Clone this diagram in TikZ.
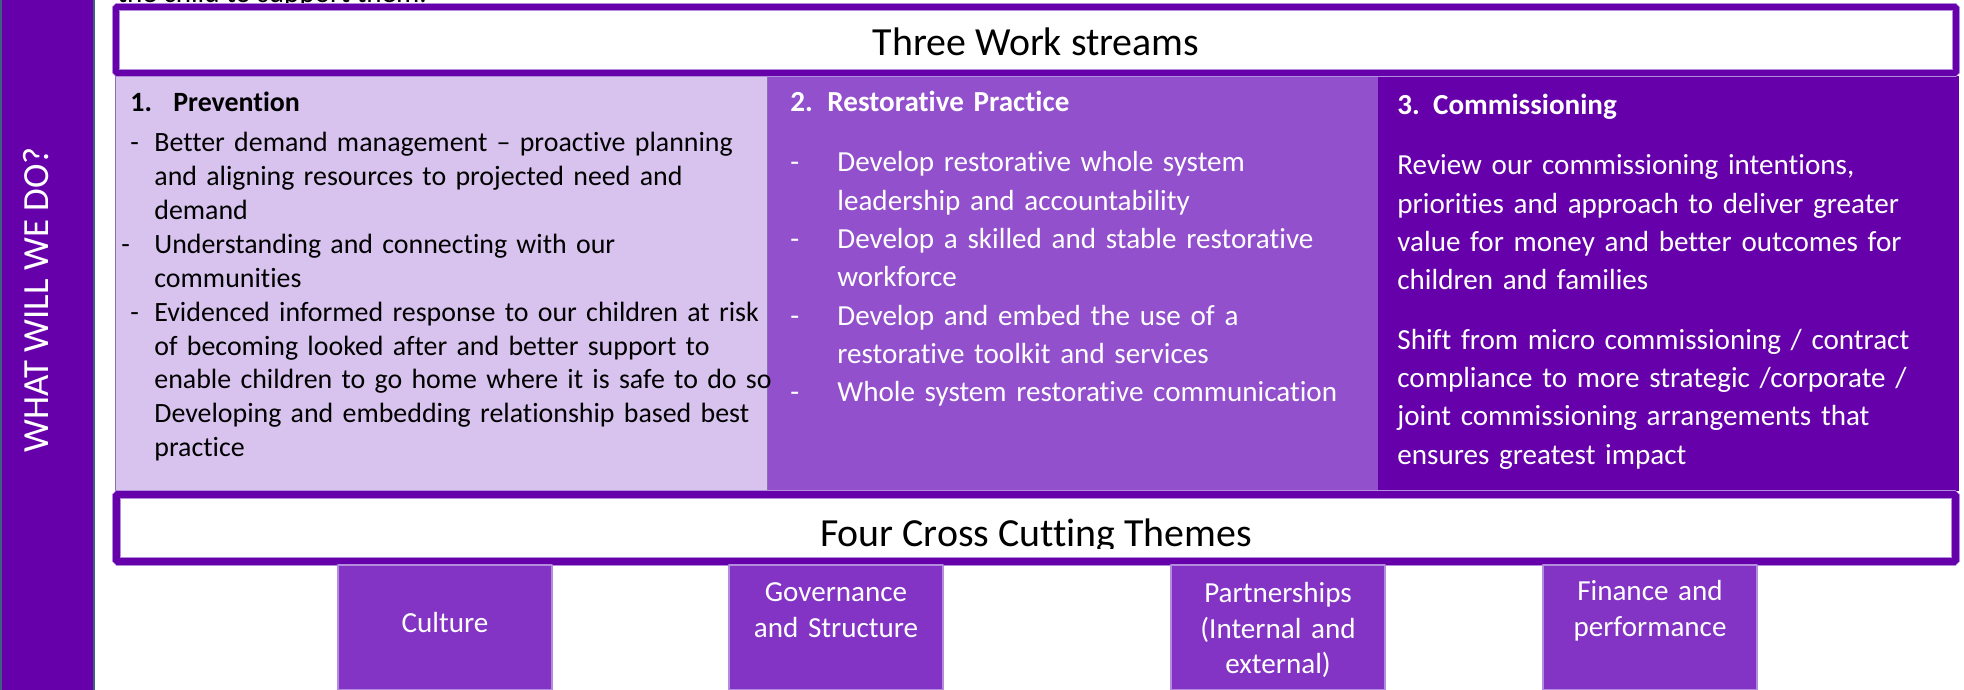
\documentclass[tikz,border=0pt]{standalone}
\usepackage{fontspec}
\setmainfont{Carlito}[Ligatures=NoCommon]
\definecolor{wpurple}{RGB}{102,0,170}
\definecolor{wlilac}{RGB}{216,194,238}
\definecolor{wviolet}{RGB}{146,80,204}
\definecolor{wtheme}{RGB}{132,52,196}
\definecolor{wedge}{RGB}{180,140,222}
\definecolor{wline}{RGB}{140,110,180}
\definecolor{wslate}{RGB}{60,96,128}
\newcommand{\itemdash}[1]{\makebox[#1][l]{-}}
\newcommand{\itemgap}[1]{\hspace*{#1}}
\begin{document}
\begin{tikzpicture}[line join=bevel,
  body/.style={anchor=base west,inner sep=0pt,align=left,text width=#1},
  title/.style={anchor=base,inner sep=0pt,font=\fontsize{20}{24}\selectfont},
  theme/.style={anchor=base,inner sep=0pt,align=center,text width=100bp,text=white,font=\fontsize{14.6}{17.75}\selectfont}]
\useasboundingbox (0bp,0bp) rectangle (982bp,345bp);
%%
\fill [wpurple] (0bp,0bp) rectangle (47bp,345bp);
\draw [wslate,line width=1.2bp] (0.6bp,0bp) -- (0.6bp,345bp);
\draw [wslate,line width=0.8bp] (47bp,0bp) -- (47bp,345bp);
\node (side_label) at (24bp,195bp) [anchor=base,rotate=90,inner sep=0pt,text=white,font=\fontsize{18.5}{22}\selectfont] {WHAT WILL WE DO?};
%
\node (intro_tail) at (58.5bp,343.65bp) [anchor=base west,inner sep=0pt,font=\fontsize{14.6}{17}\selectfont] {the child to support them.};
%
\filldraw [fill=wlilac,draw=wline,line width=0.5bp] (57.5bp,99.5bp) rectangle (383.5bp,307bp);
\filldraw [fill=wviolet,draw=wline,line width=0.5bp] (383.5bp,99.5bp) rectangle (689bp,307bp);
\fill [wpurple] (689bp,99.5bp) rectangle (979.5bp,307bp);
%
\draw [wedge,line width=4bp,fill=white] (58bp,308.5bp) rectangle (978bp,341.5bp);
\draw [wpurple,line width=3bp] (58bp,308.5bp) rectangle (978bp,341.5bp);
\node (streams_title) at (518bp,317bp) [title] {Three Work streams};
%
\node (prevention) at (65bp,289bp) [body=330bp,font=\fontsize{14}{17}\selectfont] {%
\textbf{\makebox[21.5bp][l]{1.}Prevention}\\[3bp]
\itemdash{12bp}Better demand management – proactive planning\\
\itemgap{12bp}and aligning resources to projected need and\\
\itemgap{12bp}demand\\
\itemgap{-4.5bp}\itemdash{16.5bp}Understanding and connecting with our\\
\itemgap{12bp}communities\\
\itemdash{12bp}Evidenced informed response to our children at risk\\
\itemgap{12bp}of becoming looked after and better support to\\
\itemgap{12bp}enable children to go home where it is safe to do so\\
\itemgap{12bp}Developing and embedding relationship based best\\
\itemgap{12bp}practice};
%
\node (restorative) at (395bp,289bp) [body=290bp,text=white,font=\fontsize{14.6}{19.25}\selectfont] {%
\textbf{2. Restorative Practice}\\[10.75bp]
\itemdash{23.5bp}Develop restorative whole system\\
\itemgap{23.5bp}leadership and accountability\\
\itemdash{23.5bp}Develop a skilled and stable restorative\\
\itemgap{23.5bp}workforce\\
\itemdash{23.5bp}Develop and embed the use of a\\
\itemgap{23.5bp}restorative toolkit and services\\
\itemdash{23.5bp}Whole system restorative communication};
%
\node (commissioning) at (698.5bp,287.5bp) [body=280bp,text=white,font=\fontsize{14.6}{19.2}\selectfont] {%
\textbf{\makebox[17.9bp][l]{3.}Commissioning}\\[10.8bp]
Review our commissioning intentions,\\
priorities and approach to deliver greater\\
value for money and better outcomes for\\
children and families\\[10.8bp]
Shift from micro commissioning / contract\\
compliance to more strategic /corporate /\\
joint commissioning arrangements that\\
ensures greatest impact};
%
\draw [wedge,line width=4.5bp,fill=white] (58.25bp,64.25bp) rectangle (977.75bp,97.75bp);
\draw [wpurple,line width=3.5bp] (58.25bp,64.25bp) rectangle (977.75bp,97.75bp);
\begin{scope}
\clip (60bp,70.8bp) rectangle (976bp,96bp);
\node (themes_title) at (518bp,71.6bp) [title] {Four Cross Cutting Themes};
\end{scope}
%
\filldraw [fill=wtheme,draw=wedge,line width=0.6bp] (169bp,0bp) rectangle (276bp,62.5bp);
\filldraw [fill=wtheme,draw=wedge,line width=0.6bp] (364.5bp,0bp) rectangle (471.5bp,62.5bp);
\filldraw [fill=wtheme,draw=wedge,line width=0.6bp] (585.5bp,0bp) rectangle (692.5bp,62.5bp);
\filldraw [fill=wtheme,draw=wedge,line width=0.6bp] (771.5bp,0bp) rectangle (878.5bp,62.5bp);
\node (culture) at (222.5bp,29bp) [theme] {Culture};
\node (governance) at (418bp,44bp) [theme] {Governance\\and Structure};
\node (partnerships) at (639bp,43.5bp) [theme] {Partnerships\\(Internal and\\external)};
\node (finance) at (825bp,44.5bp) [theme] {Finance and\\performance};
%
\end{tikzpicture}
\end{document}
